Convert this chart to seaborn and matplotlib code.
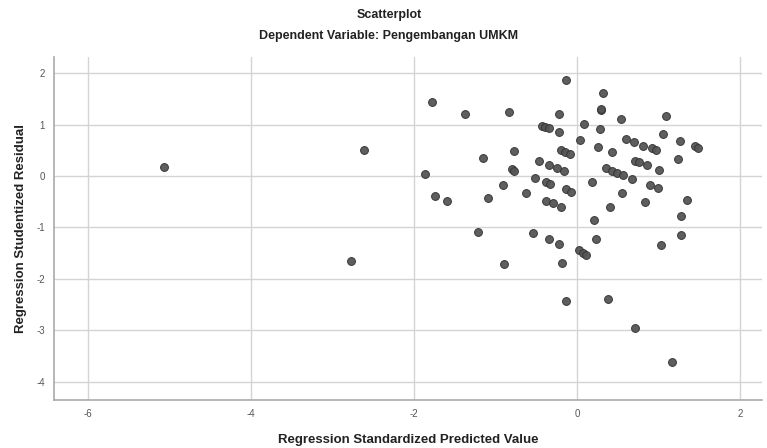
import matplotlib
matplotlib.use('Agg')
import matplotlib.pyplot as plt
import pandas as pd
import seaborn as sns

# regression standardized predicted value (x) / studentized residual (y)
predicted = [
    -5.07, -2.61, -2.78, -1.78, -1.37, -0.84, -0.13, -0.22, -0.43, -0.39,
    -0.34, -0.22, 0.09, 0.04, -0.77, -1.16, -0.20, -0.15, -0.09, -0.47,
    -0.34, -0.24, -0.16, -0.80, -0.77, -1.87, -0.52, -0.38, -0.33, -0.91,
    -0.13, -0.07, -1.74, -1.60, -1.09, -0.63, -0.38, -0.29, -0.20, -1.21,
    -0.54, -0.34, -0.22, 0.02, 0.07, 0.11, -0.90, -0.18, -0.13, 0.32,
    0.29, 0.30, 0.54, 1.09, 0.28, 1.05, 0.60, 0.70, 0.81, 0.92,
    0.97, 1.27, 1.45, 1.49, 0.26, 0.43, 1.24, 0.71, 0.76, 0.86,
    1.01, 0.36, 0.43, 0.49, 0.56, 0.68, 0.18, 0.90, 0.99, 0.55,
    1.35, 0.84, 0.40, 1.28, 0.21, 0.23, 1.28, 1.03, 0.38, 0.71,
    1.16,
]
residual = [
    0.17, 0.50, -1.65, 1.45, 1.21, 1.25, 1.87, 1.21, 0.98, 0.96,
    0.93, 0.86, 1.02, 0.71, 0.48, 0.35, 0.50, 0.46, 0.43, 0.29,
    0.21, 0.16, 0.09, 0.14, 0.09, 0.05, -0.04, -0.12, -0.16, -0.17,
    -0.26, -0.31, -0.39, -0.49, -0.42, -0.33, -0.49, -0.53, -0.60, -1.08,
    -1.11, -1.23, -1.32, -1.44, -1.49, -1.54, -1.71, -1.69, -2.44, 1.62,
    1.28, 1.30, 1.12, 1.16, 0.92, 0.82, 0.72, 0.66, 0.59, 0.55,
    0.51, 0.69, 0.58, 0.55, 0.57, 0.47, 0.34, 0.30, 0.27, 0.22,
    0.11, 0.16, 0.09, 0.06, 0.03, -0.05, -0.11, -0.17, -0.24, -0.33,
    -0.46, -0.50, -0.61, -0.78, -0.85, -1.22, -1.14, -1.34, -2.39, -2.95,
    -3.61,
]
x_ticks = [-6, -4, -2, 0, 2]
y_ticks = [2, 1, 0, -1, -2, -3, -4]

df = pd.DataFrame({'predicted': predicted, 'residual': residual})

sns.set_style('white')
plt.rcParams['font.family'] = ['Liberation Sans', 'DejaVu Sans']
plt.rcParams['axes.unicode_minus'] = False

fig = plt.figure(figsize=(7.67, 4.48), dpi=100)
ax = fig.add_axes([0.0704, 0.107, 0.923, 0.766])

ax.set_xlim(-6.42, 2.27)
ax.set_ylim(-4.36, 2.32)
ax.set_xticks(x_ticks)
ax.set_yticks(y_ticks)
ax.grid(True, color='#d4d4d4', linewidth=1.0)
ax.set_axisbelow(True)

sns.scatterplot(data=df, x='predicted', y='residual', ax=ax, s=32,
                color='#555555', edgecolor='#333333', linewidth=0.7, alpha=0.95)

sns.despine(ax=ax, top=True, right=True)
for side in ['left', 'bottom']:
    ax.spines[side].set_color('#aaaaaa')
    ax.spines[side].set_linewidth(1.2)

ax.tick_params(axis='both', labelsize=7, colors='#aaaaaa', labelcolor='#555555',
               length=3, direction='out')

ax.set_xlabel('Regression Standardized Predicted Value', fontsize=9.5,
              fontweight='bold', color='#222222', labelpad=11)
ax.set_ylabel('Regression Studentized Residual', fontsize=9.5,
              fontweight='bold', color='#222222', labelpad=7)

fig.text(0.507, 0.967, 'Scatterplot', ha='center', va='center', fontsize=9,
         fontweight='bold', color='#222222')
fig.text(0.507, 0.919, 'Dependent Variable: Pengembangan UMKM', ha='center',
         va='center', fontsize=9, fontweight='bold', color='#222222')

fig.savefig('out.png', dpi=100)
